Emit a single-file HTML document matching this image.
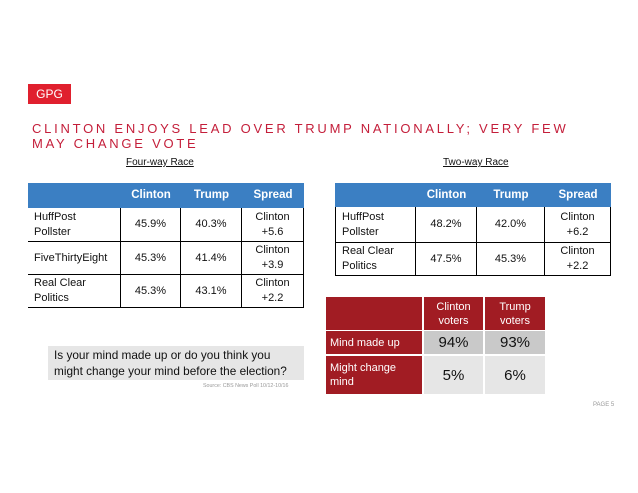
<!DOCTYPE html>
<html><head><meta charset="utf-8"><style>
body{margin:0;width:638px;height:493px;background:#fff;position:relative;overflow:hidden;font-family:"Liberation Sans",Arial,sans-serif;color:#111}
.a{position:absolute}
.c{position:absolute;display:flex;align-items:center;justify-content:center;text-align:center;box-sizing:border-box;font-size:11px;line-height:15px}
.l{justify-content:flex-start;text-align:left;padding-left:6px}
.h{background:#3b7fc3;color:#fff;font-weight:bold;font-size:11.5px}
.b{border-right:1px solid #000;border-bottom:1px solid #000}
.r{background:#a11c23;color:#fff;font-size:11px;line-height:14px}
</style></head><body>
<div class="a" style="left:28px;top:84px;width:43px;height:20px;background:#e0202e;color:#fff;font-size:12px;line-height:20px;text-align:center">GPG</div>
<div class="a" style="left:32px;top:121px;width:600px;color:#c41e3a;font-size:13px;line-height:15px;letter-spacing:2.75px">CLINTON ENJOYS LEAD OVER TRUMP NATIONALLY; VERY FEW<br>MAY CHANGE VOTE</div>
<div class="a" style="left:126px;top:157px;font-size:10px;text-decoration:underline">Four-way  Race</div>
<div class="a" style="left:443px;top:157px;font-size:10px;text-decoration:underline">Two-way  Race</div>

<div>
<div class="c h" style="left:28px;top:183px;width:93px;height:25px"></div>
<div class="c h" style="left:121px;top:183px;width:60px;height:25px">Clinton</div>
<div class="c h" style="left:181px;top:183px;width:61px;height:25px">Trump</div>
<div class="c h" style="left:242px;top:183px;width:62px;height:25px">Spread</div>
<div class="c b l" style="left:28px;top:208px;width:93px;height:34px">HuffPost<br>Pollster</div>
<div class="c b" style="left:121px;top:208px;width:60px;height:34px">45.9%</div>
<div class="c b" style="left:181px;top:208px;width:61px;height:34px">40.3%</div>
<div class="c b" style="left:242px;top:208px;width:62px;height:34px">Clinton<br>+5.6</div>
<div class="c b l" style="left:28px;top:242px;width:93px;height:33px">FiveThirtyEight</div>
<div class="c b" style="left:121px;top:242px;width:60px;height:33px">45.3%</div>
<div class="c b" style="left:181px;top:242px;width:61px;height:33px">41.4%</div>
<div class="c b" style="left:242px;top:242px;width:62px;height:33px">Clinton<br>+3.9</div>
<div class="c b l" style="left:28px;top:275px;width:93px;height:33px">Real Clear<br>Politics</div>
<div class="c b" style="left:121px;top:275px;width:60px;height:33px">45.3%</div>
<div class="c b" style="left:181px;top:275px;width:61px;height:33px">43.1%</div>
<div class="c b" style="left:242px;top:275px;width:62px;height:33px">Clinton<br>+2.2</div>
</div>

<div>
<div class="c h" style="left:335px;top:183px;width:81px;height:24px"></div>
<div class="c h" style="left:416px;top:183px;width:61px;height:24px">Clinton</div>
<div class="c h" style="left:477px;top:183px;width:68px;height:24px">Trump</div>
<div class="c h" style="left:545px;top:183px;width:66px;height:24px">Spread</div>
<div class="c b l" style="left:335px;top:207px;width:81px;height:36px;border-left:1px solid #000">HuffPost<br>Pollster</div>
<div class="c b" style="left:416px;top:207px;width:61px;height:36px">48.2%</div>
<div class="c b" style="left:477px;top:207px;width:68px;height:36px">42.0%</div>
<div class="c b" style="left:545px;top:207px;width:66px;height:36px">Clinton<br>+6.2</div>
<div class="c b l" style="left:335px;top:243px;width:81px;height:33px;border-left:1px solid #000">Real Clear<br>Politics</div>
<div class="c b" style="left:416px;top:243px;width:61px;height:33px">47.5%</div>
<div class="c b" style="left:477px;top:243px;width:68px;height:33px">45.3%</div>
<div class="c b" style="left:545px;top:243px;width:66px;height:33px">Clinton<br>+2.2</div>
</div>

<div class="a" style="left:48px;top:346px;width:256px;height:34px;background:#e6e6e6;font-size:11.8px;line-height:16px;padding:1px 0 0 6px;box-sizing:border-box">Is your mind made up or do you think you<br>might change your mind before the election?</div>
<div class="a" style="left:203px;top:383px;font-size:5.3px;color:#999">Source: CBS News Poll 10/12-10/16</div>

<div>
<div class="c r" style="left:326px;top:297px;width:96px;height:33px"></div>
<div class="c r" style="left:424px;top:297px;width:59px;height:33px">Clinton<br>voters</div>
<div class="c r" style="left:485px;top:297px;width:60px;height:33px">Trump<br>voters</div>
<div class="c r l" style="left:326px;top:331px;width:96px;height:23px;padding-left:4px">Mind made up</div>
<div class="c" style="left:424px;top:331px;width:59px;height:23px;background:#c9c9c9;font-size:15px">94%</div>
<div class="c" style="left:485px;top:331px;width:60px;height:23px;background:#c9c9c9;font-size:15px">93%</div>
<div class="c r l" style="left:326px;top:356px;width:96px;height:38px;padding-left:4px">Might change<br>mind</div>
<div class="c" style="left:424px;top:356px;width:59px;height:38px;background:#e6e6e6;font-size:15px">5%</div>
<div class="c" style="left:485px;top:356px;width:60px;height:38px;background:#e6e6e6;font-size:15px">6%</div>
</div>

<div class="a" style="left:593px;top:402px;font-size:6px;color:#999">PAGE 5</div>
</body></html>
